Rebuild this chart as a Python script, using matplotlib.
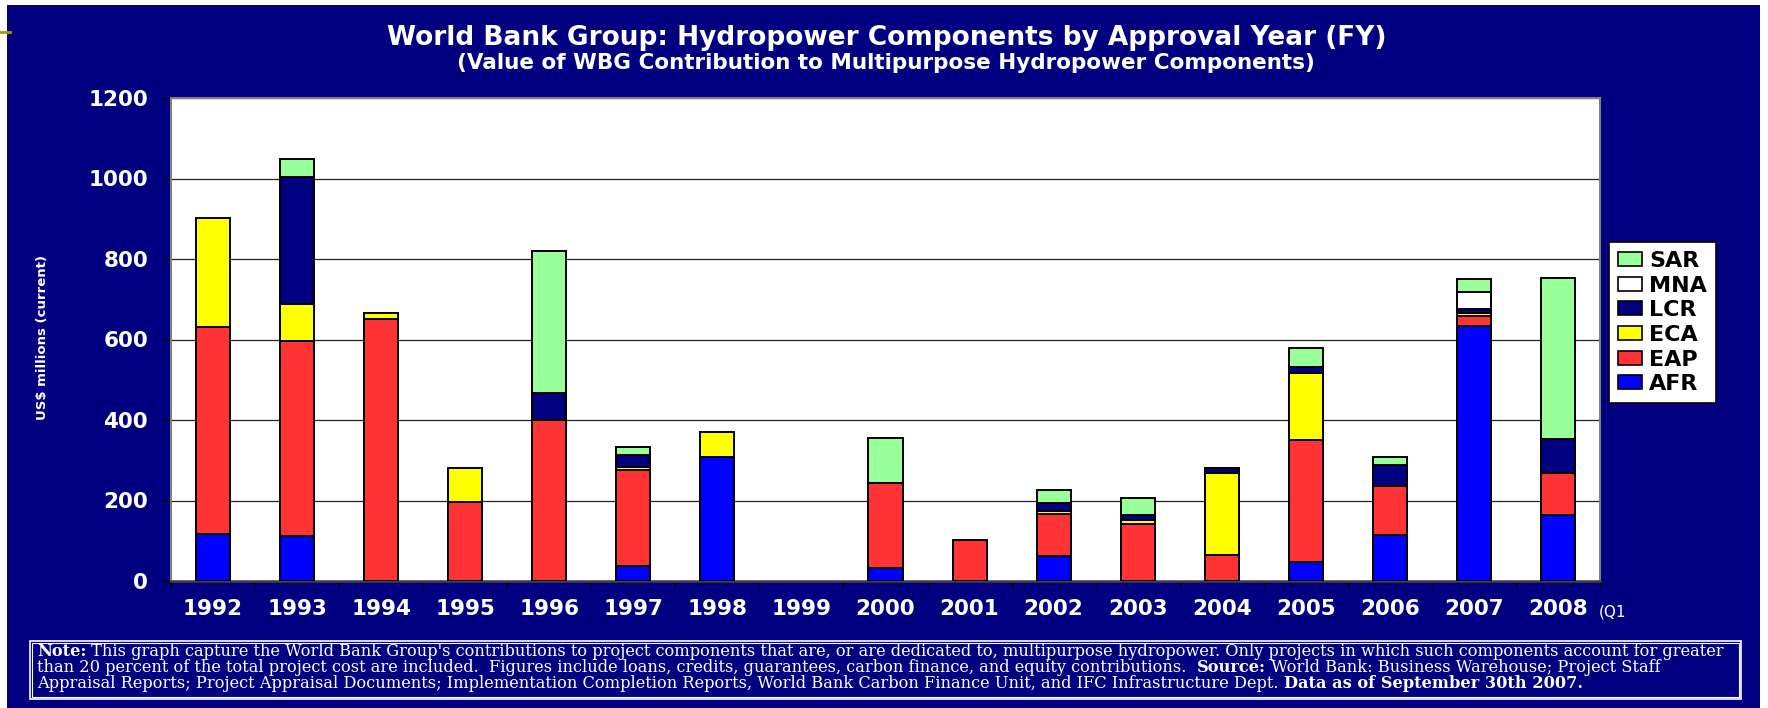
import matplotlib
matplotlib.use("Agg")
import matplotlib.pyplot as plt
import numpy as np
from matplotlib.patches import Patch, Rectangle
from matplotlib.lines import Line2D

W, H = 1768, 708
NAVY = "#000080"

years = ["1992", "1993", "1994", "1995", "1996", "1997", "1998", "1999", "2000",
         "2001", "2002", "2003", "2004", "2005", "2006", "2007", "2008"]

# US$ millions per region (stack order bottom -> top)
afr = [117, 112, 0, 0, 0, 38, 309, 0, 33, 0, 62, 0, 0, 46, 115, 634, 164]
eap = [514, 484, 651, 197, 400, 239, 0, 0, 211, 101, 104, 141, 64, 305, 122, 25, 105]
eca = [271, 93, 14, 83, 0, 5, 60, 0, 0, 0, 7, 10, 204, 165, 0, 7, 0]
lcr = [0, 314, 0, 0, 66, 32, 0, 0, 0, 0, 22, 13, 13, 16, 52, 10, 84]
mna = [0, 0, 0, 0, 0, 0, 0, 0, 0, 0, 0, 0, 0, 0, 0, 41, 0]
sar = [0, 46, 0, 0, 354, 18, 0, 0, 112, 0, 30, 41, 0, 48, 19, 33, 401]

series = [("AFR", afr, "#0000FF"), ("EAP", eap, "#FF3333"), ("ECA", eca, "#FFFF00"),
          ("LCR", lcr, "#000080"), ("MNA", mna, "#FFFFFF"), ("SAR", sar, "#99FF99")]

y_ticks = [0, 200, 400, 600, 800, 1000, 1200]

title = "World Bank Group: Hydropower Components by Approval Year (FY)"
subtitle = "(Value of WBG Contribution to Multipurpose Hydropower Components)"

note_lines = [
    [("Note:", "bold"),
     (" This graph capture the World Bank Group's contributions to project components that are, "
      "or are dedicated to, multipurpose hydropower. Only projects in which such components account for greater", "normal")],
    [("than 20 percent of the total project cost are included.  Figures include loans, credits, guarantees, "
      "carbon finance, and equity contributions.  ", "normal"),
     ("Source:", "bold"),
     (" World Bank: Business Warehouse; Project Staff", "normal")],
    [("Appraisal Reports; Project Appraisal Documents; Implementation Completion Reports, World Bank "
      "Carbon Finance Unit, and IFC Infrastructure Dept. ", "normal"),
     ("Data as of September 30th 2007.", "bold")],
]


def fx(px):
    return px / W


def fy(py):
    return 1 - py / H


plt.rcParams["font.family"] = ["DejaVu Sans"]
fig = plt.figure(figsize=(W / 100, H / 100), dpi=100, facecolor="white")

# navy slide background
fig.patches.append(Rectangle((fx(7), 0), fx(1760) - fx(7), fy(5), transform=fig.transFigure,
                             facecolor=NAVY, edgecolor="none", zorder=-5))
fig.lines.append(Line2D([0, fx(10)], [fy(32), fy(32)], transform=fig.transFigure,
                        color="#A0A000", lw=2, zorder=-4))

ax = fig.add_axes([fx(171), fy(581), fx(1600) - fx(171), (581 - 98) / H])
ax.set_facecolor("white")

x = np.arange(len(years))
bottom = np.zeros(len(years))
for name, vals, color in series:
    vals = np.array(vals, dtype=float)
    idx = np.nonzero(vals)[0]
    ax.bar(x[idx], vals[idx], width=0.405, bottom=bottom[idx], color=color,
           edgecolor="black", linewidth=1.4, zorder=3)
    bottom += vals

ax.set_xlim(-0.5, len(years) - 0.5)
ax.set_ylim(0, 1200)
ax.set_yticks(y_ticks)
ax.set_yticklabels([str(v) for v in y_ticks])
ax.yaxis.grid(True, color="#222222", lw=0.9, zorder=1)

ax.set_xticks(x)
ax.set_xticklabels(years)
ax.set_xticks(np.arange(-0.5, len(years)), minor=True)
ax.tick_params(axis="x", which="major", length=0, pad=13, labelsize=15.5, labelcolor="white")
ax.tick_params(axis="x", which="minor", length=5, width=1, color="black", direction="out")
ax.tick_params(axis="y", length=6.5, width=1, color="black", direction="out", pad=10,
               labelsize=15.5, labelcolor="white")
for lab in ax.get_xticklabels() + ax.get_yticklabels():
    lab.set_fontweight("bold")

for side in ["left", "top", "right"]:
    ax.spines[side].set_color("#808080")
    ax.spines[side].set_linewidth(1.5)
ax.spines["bottom"].set_color("#404040")
ax.spines["bottom"].set_linewidth(1.8)

fig.text(fx(1599), fy(612), "(Q1", color="white", fontsize=11, ha="left", va="center")

fig.text(fx(43), fy(338), "US$ millions (current)", color="white", fontsize=9.5,
         fontweight="bold", rotation=90, ha="center", va="center")

fig.text(fx(887), fy(38), title, color="white", fontsize=19, fontweight="bold",
         ha="center", va="center")
fig.text(fx(886), fy(63), subtitle, color="white", fontsize=15.5, fontweight="bold",
         ha="center", va="center")

handles = [Patch(facecolor=c, edgecolor="black", linewidth=1.2, label=n)
           for n, _, c in reversed(series)]
leg = fig.legend(handles=handles, loc="upper left", bbox_to_anchor=(fx(1609), fy(242)),
                 frameon=True, fancybox=False, edgecolor="black", facecolor="white",
                 framealpha=1, prop={"weight": "bold", "size": 16}, handlelength=1.1,
                 handleheight=0.6, handletextpad=0.3, labelspacing=0.21, borderpad=0.4,
                 borderaxespad=0)
leg.get_frame().set_linewidth(1.2)

# note box (double white border)
fig.patches.append(Rectangle((fx(30), fy(699)), fx(1741) - fx(30), (699 - 641) / H,
                             transform=fig.transFigure, facecolor="none",
                             edgecolor="white", lw=1.2))
fig.patches.append(Rectangle((fx(32), fy(697)), fx(1739) - fx(32), (697 - 643) / H,
                             transform=fig.transFigure, facecolor="none",
                             edgecolor="white", lw=0.8))

renderer = fig.canvas.get_renderer()

# fit the note font so that the first line fills the box width
probe = fig.text(0, 0, "".join(s for s, _ in note_lines[0]), family="DejaVu Serif", fontsize=10)
probe_w = probe.get_window_extent(renderer).width
probe.remove()
note_size = 10 * 1695 / probe_w

for line, ypx in zip(note_lines, [651, 667, 683]):
    xpx = 37
    for txt, weight in line:
        t = fig.text(fx(xpx), fy(ypx), txt, family="DejaVu Serif", fontsize=note_size,
                     fontweight=weight, color="white", ha="left", va="center")
        xpx += t.get_window_extent(renderer).width

fig.savefig("out.png", dpi=100, facecolor=fig.get_facecolor())
